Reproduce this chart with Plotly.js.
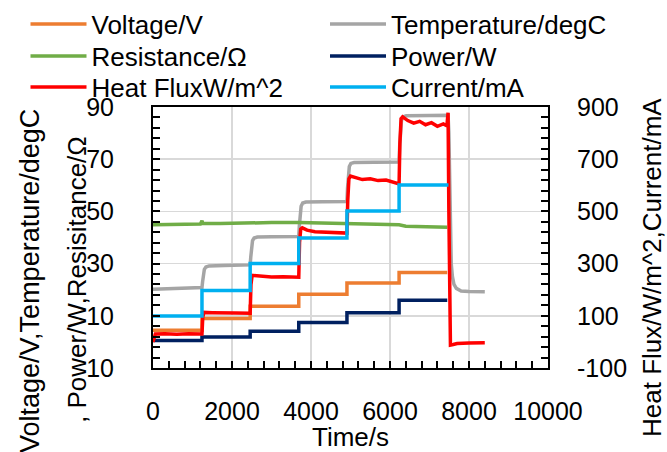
<!DOCTYPE html>
<html>
<head>
<meta charset="utf-8">
<script src="https://cdn.plot.ly/plotly-3.0.1.min.js"></script>
<style>
html,body{margin:0;padding:0;background:#fff;}
#chart{width:667px;height:452px;}
</style>
</head>
<body>
<div id="chart"></div>
<script>
// ---- data ----
const seriesNames = ['Voltage/V', 'Temperature/degC', 'Resistance/Ω', 'Power/W', 'Heat FluxW/m^2', 'Current/mA'];

const stepTime = [0, 1240, 1240, 2460, 2460, 3690, 3690, 4910, 4910, 6230, 6230, 7450];
const voltageValues = [4.5, 4.5, 9.0, 9.0, 13.7, 13.7, 18.3, 18.3, 22.6, 22.6, 26.6, 26.6];
const powerValues = [0.5, 0.5, 1.9, 1.9, 4.1, 4.1, 7.4, 7.4, 11.2, 11.2, 16.0, 16.0];

const currentTime = [0, 1240, 1240, 2460, 2460, 3690, 3690, 4910, 4910, 6230, 6230, 7480];
const currentValues = [99, 99, 197, 197, 300, 300, 398, 398, 502, 502, 601, 601];

const resistanceTime = [0, 400, 800, 1200, 1240, 1260, 1700, 2200, 2460, 2480, 3000, 3690, 4200, 4910, 5500, 6230, 6400, 7000, 7450];
const resistanceValues = [44.9, 45.0, 45.1, 45.2, 46.4, 45.4, 45.4, 45.5, 45.6, 45.8, 45.7, 45.7, 45.5, 45.3, 45.1, 44.9, 44.3, 44.0, 43.9];

const tempTime = [0, 600, 1240, 1255, 1275, 1300, 1340, 1420, 1800, 2460,
  2475, 2495, 2520, 2560, 2640, 3000, 3690, 3705, 3725, 3750,
  3790, 3870, 4300, 4910, 4925, 4945, 4970, 5010, 5090, 5600,
  6230, 6245, 6265, 6290, 6330, 6410, 7000, 7470, 7490, 7510,
  7530, 7550, 7580, 7620, 7680, 7800, 8000, 8400];
const tempValues = [20.2, 20.5, 20.8, 23.0, 26.0, 27.8, 28.7, 29.1, 29.3, 29.5,
  32.5, 36.5, 38.8, 39.8, 40.2, 40.3, 40.4, 44.5, 49.5, 52.0,
  53.2, 53.6, 53.7, 53.8, 59.0, 64.5, 67.2, 68.4, 68.7, 68.8,
  68.9, 75.0, 81.5, 84.8, 86.2, 86.6, 86.7, 86.8, 80.0, 60.0,
  40.0, 30.0, 25.0, 22.0, 20.5, 19.5, 19.3, 19.2];

const fluxTime = [0, 30, 60, 300, 600, 900, 1240, 1260, 1290, 1500, 1800, 2100,
  2460, 2480, 2510, 2700, 3000, 3300, 3690, 3710, 3740, 3780, 3900, 4100,
  4400, 4700, 4910, 4930, 4960, 5000, 5150, 5300, 5500, 5700, 5900, 6100,
  6230, 6250, 6280, 6320, 6450, 6600, 6750, 6900, 7050, 7200, 7350, 7440,
  7470, 7490, 7510, 7530, 7600, 7700, 8000, 8400];
const fluxValues = [0, 22, 30, 31, 29, 31, 30, 95, 113, 112, 110, 111,
  110, 220, 255, 252, 249, 250, 248, 380, 432, 437, 428, 422,
  420, 418, 417, 540, 625, 635, 628, 622, 625, 618, 620, 612,
  605, 760, 855, 862, 848, 838, 845, 832, 840, 826, 835, 828,
  878, 500, 100, -12, -10, -6, -4, -3];

const xTickVals = [0, 2000, 4000, 6000, 8000, 10000];
const xTickText = ['0', '2000', '4000', '6000', '8000', '10000'];
const leftTickVals = [-10, 10, 30, 50, 70, 90];
const leftTickText = ['10', '10', '30', '50', '70', '90'];
const rightTickVals = [-100, 100, 300, 500, 700, 900];
const rightTickText = ['-100', '100', '300', '500', '700', '900'];

const leftTitleOuter = 'Voltage/V,Temperature/degC';
const leftTitleInner = ', Power/W,Resisitance/Ω';
const rightTitle = 'Heat Flux/W/m^2,Current/mA';
const xTitle = 'Time/s';

// ---- styling ----
const colors = ['#ED7D31', '#A5A5A5', '#70AD47', '#002060', '#FF0000', '#00B0F0'];
const FONT = '"Liberation Sans", Arial, sans-serif';
const W = 667, H = 452;
const M = {l: 153, r: 119, t: 107, b: 84, autoexpand: false};
const plotW = W - M.l - M.r, plotH = H - M.t - M.b;
const px2x = p => (p - M.l) / plotW;
const px2y = p => (H - M.b - p) / plotH;

// legend grid: 2 columns x 3 rows (pixel positions of each entry)
const legendColX = [25.5, 325];
const legendRowY = [24, 56, 87];
const legendIds = ['legend', 'legend2', 'legend3', 'legend4', 'legend5', 'legend6'];

function line(i, x, y, axis) {
  return {type: 'scatter', mode: 'lines', name: seriesNames[i], x: x, y: y, yaxis: axis,
    legend: legendIds[i], line: {color: colors[i], width: 3.5}, hoverinfo: 'skip'};
}

const traces = [
  line(0, stepTime, voltageValues, 'y'),
  line(1, tempTime, tempValues, 'y'),
  line(2, resistanceTime, resistanceValues, 'y'),
  line(3, stepTime, powerValues, 'y'),
  line(4, fluxTime, fluxValues, 'y2'),
  line(5, currentTime, currentValues, 'y2')
];

const axisCommon = {
  showline: true, linecolor: '#000', linewidth: 2,
  ticks: 'inside', ticklen: 7, tickwidth: 2, tickcolor: '#000',
  zeroline: false, tickfont: {size: 25, color: '#000'}, automargin: false
};

const layout = {
  width: W, height: H,
  margin: M,
  paper_bgcolor: '#fff', plot_bgcolor: '#fff',
  font: {family: FONT, size: 25, color: '#000'},
  showlegend: true,
  xaxis: Object.assign({}, axisCommon, {
    range: [0, 10000], tickmode: 'array', tickvals: xTickVals, ticktext: xTickText,
    showgrid: true, gridcolor: '#D9D9D9', gridwidth: 1.5,
    mirror: true, ticklabelstandoff: 20,
    minor: {dtick: 400, tick0: 0, ticks: 'inside', ticklen: 7, tickwidth: 2, tickcolor: '#000', showgrid: false},
    title: {text: xTitle, font: {size: 26}, standoff: 4}
  }),
  yaxis: Object.assign({}, axisCommon, {
    range: [-10, 90], tickmode: 'array', tickvals: leftTickVals, ticktext: leftTickText,
    showgrid: true, gridcolor: '#D9D9D9', gridwidth: 1.5,
    ticklabelstandoff: 32,
    minor: {dtick: 4, tick0: -10, ticks: 'inside', ticklen: 7, tickwidth: 2, tickcolor: '#000', showgrid: false}
  }),
  yaxis2: Object.assign({}, axisCommon, {
    range: [-100, 900], overlaying: 'y', side: 'right', tickmode: 'array',
    tickvals: rightTickVals, ticktext: rightTickText,
    showgrid: false, ticklabelstandoff: 22,
    minor: {dtick: 40, tick0: -100, ticks: 'inside', ticklen: 7, tickwidth: 2, tickcolor: '#000', showgrid: false}
  }),
  annotations: [
    {text: leftTitleOuter, textangle: -90, xref: 'paper', yref: 'paper',
     x: px2x(30), y: px2y(281), showarrow: false, xanchor: 'center', yanchor: 'middle', font: {size: 27}},
    {text: leftTitleInner, textangle: -90, xref: 'paper', yref: 'paper',
     x: px2x(77), y: px2y(280), showarrow: false, xanchor: 'center', yanchor: 'middle', font: {size: 26}},
    {text: rightTitle, textangle: -90, xref: 'paper', yref: 'paper',
     x: px2x(652), y: px2y(268), showarrow: false, xanchor: 'center', yanchor: 'middle', font: {size: 26}}
  ]
};

legendIds.forEach((id, i) => {
  layout[id] = {
    orientation: 'v', xref: 'container', yref: 'container',
    x: legendColX[i % 2] / W, y: 1 - legendRowY[Math.floor(i / 2)] / H,
    xanchor: 'left', yanchor: 'middle', itemwidth: 56,
    font: {size: 26, color: '#000'}, bgcolor: 'rgba(0,0,0,0)', borderwidth: 0
  };
});

Plotly.newPlot('chart', traces, layout, {staticPlot: true, displayModeBar: false});
</script>
</body>
</html>
